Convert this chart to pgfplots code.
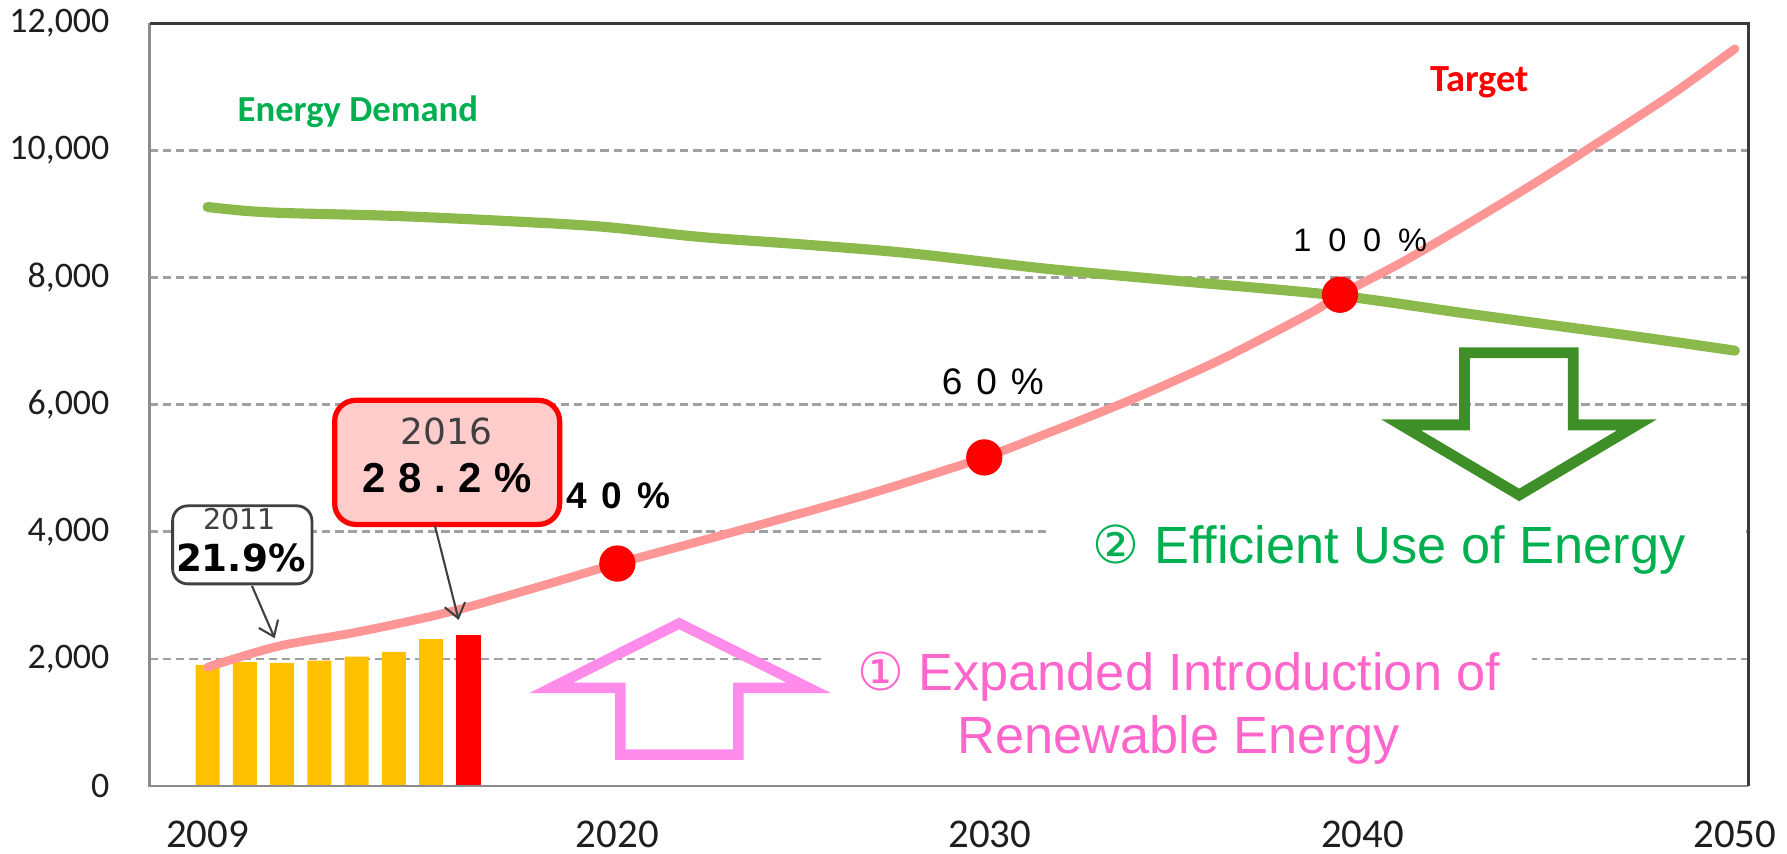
\documentclass[border=0pt]{standalone}
\usepackage{pgfplots}
\pgfplotsset{compat=1.18}
\usepackage{fontspec}
\setmainfont{Liberation Sans}
\newfontfamily\carlito{Carlito}
\newfontfamily\dejavu{DejaVu Sans}
\usetikzlibrary{arrows.meta}
\definecolor{barorange}{RGB}{255,192,0}
\definecolor{barred}{RGB}{255,0,0}
\definecolor{pinkline}{RGB}{255,150,150}
\definecolor{greenline}{RGB}{140,185,75}
\definecolor{greenarrow}{RGB}{63,143,41}
\definecolor{pinkarrow}{RGB}{255,140,235}
\definecolor{textgreen}{RGB}{0,176,80}
\definecolor{textpink}{RGB}{255,102,204}
\definecolor{gridgray}{RGB}{160,160,160}
\definecolor{boxfill}{RGB}{255,204,204}
\definecolor{boxgray}{RGB}{64,64,64}
\definecolor{framegray}{RGB}{140,140,140}
\definecolor{framedark}{RGB}{58,58,58}
\definecolor{ticktext}{RGB}{30,30,30}
\begin{document}
\begin{tikzpicture}
\begin{axis}[
  at={(0,0)}, anchor=south west,
  scale only axis, width=16.104cm, height=7.682cm,
  xmin=2007.44, xmax=2050.36, ymin=0, ymax=12000,
  scaled x ticks=false, scaled y ticks=false,
  xtick={2009,2020,2030,2040,2050},
  xticklabels={2009,2020,2030,2040,2050},
  ytick={0,2000,4000,6000,8000,10000,12000},
  yticklabels={0,{2,000},{4,000},{6,000},{8,000},{10,000},{12,000}},
  major tick length=0pt,
  tick style={draw=none},
  axis line style={draw=none},
  extra y ticks={2000,4000,6000,8000,10000},
  extra y tick labels={},
  extra y tick style={grid=major},
  grid style={color=gridgray, line width=0.75pt, dash pattern=on 2.4pt off 1.4pt},
  xticklabel style={font=\carlito\fontsize{11.7}{14}\selectfont, text=ticktext, anchor=base, inner sep=0pt, yshift=-17.6pt},
  yticklabel style={font=\carlito\fontsize{10.3}{12}\selectfont, text=ticktext, anchor=east, inner sep=0pt, xshift=-11.3pt},
  clip=false,
]
% bars
\addplot[ybar, bar width=0.64, bar shift=0pt, fill=barorange, draw=none]
  coordinates {(2009,1906) (2010,1948) (2011,1938) (2012,1974) (2013,2036) (2014,2109) (2015,2312)};
\addplot[ybar, bar width=0.68, bar shift=0pt, fill=barred, draw=none]
  coordinates {(2016,2379)};
% target line
\addplot[smooth, color=pinkline, line width=2.5pt, line cap=round]
  coordinates {(2009,1870) (2010.9,2200) (2013,2420) (2015.4,2725) (2017.8,3120) (2020,3500)
  (2022.2,3850) (2024.5,4220) (2026.9,4620) (2029.85,5170) (2031.5,5540) (2032.5,5770)
  (2034,6130) (2036.2,6710) (2038.6,7440) (2039.4,7730) (2041,8220) (2042.7,8800)
  (2044.5,9440) (2046,10000) (2048.3,10880) (2050,11600)};
% energy demand line
\addplot[smooth, color=greenline, line width=2.9pt, line cap=round]
  coordinates {(2009,9110) (2010,9050) (2011.1,9015) (2014,8970) (2017,8890) (2019.6,8800)
  (2022.2,8640) (2025,8520) (2027.8,8385) (2031.5,8140) (2035,7950) (2039.3,7720)
  (2042.6,7450) (2044.6,7290) (2047.5,7060) (2050,6850)};
% milestone dots
\addplot[only marks, mark=*, mark size=5pt, color=red, fill=red]
  coordinates {(2020,3500) (2029.85,5170) (2039.4,7730)};

% white gaps in grid lines behind the big texts
\fill[white] (axis cs:2031.5,3880) rectangle (axis cs:2050.3,4120);
\fill[white] (axis cs:2025.47,1880) rectangle (axis cs:2044.55,2120);

% 2011 callout
\draw[boxgray, line width=0.8pt, rounded corners=4.3pt, fill=white]
  (axis cs:2008.06,4408) rectangle (axis cs:2011.80,3180);
\node[anchor=base, inner sep=0pt, text=boxgray, font=\dejavu\fontsize{8.2}{10}\selectfont]
  at (axis cs:2009.86,4030) {2011};
\node[anchor=base, inner sep=0pt, font=\dejavu\bfseries\fontsize{10.7}{12}\selectfont]
  at (axis cs:2009.89,3373) {21.9\%};
\draw[-{Straight Barb[length=4pt,width=6pt]}, line width=0.6pt, color=boxgray]
  (axis cs:2010.19,3150) -- (axis cs:2010.80,2325);

% 2016 callout
\draw[red, line width=1.5pt, rounded corners=6pt, fill=boxfill]
  (axis cs:2012.41,6068) rectangle (axis cs:2018.45,4116);
\node[anchor=base, inner sep=0pt, text=boxgray, font=\dejavu\fontsize{10.3}{12}\selectfont]
  at (axis cs:2015.41,5368) {2016};
\node[anchor=base west, inner sep=0pt, font=\bfseries\fontsize{12}{14}\selectfont\addfontfeature{LetterSpace=30}]
  at (axis cs:2013.145,4612) {28.2\%};
\draw[-{Straight Barb[length=4pt,width=6pt]}, line width=0.6pt, color=boxgray]
  (axis cs:2015.10,4100) -- (axis cs:2015.74,2613);

% percentage labels
\node[anchor=base west, inner sep=0pt, font=\bfseries\fontsize{10.6}{12}\selectfont\addfontfeature{LetterSpace=40}]
  at (axis cs:2018.62,4371) {40\%};
\node[anchor=base west, inner sep=0pt, font=\fontsize{10.6}{12}\selectfont\addfontfeature{LetterSpace=38}]
  at (axis cs:2028.69,6155) {60\%};
\node[anchor=base west, inner sep=0pt, font=\fontsize{9.3}{11}\selectfont\addfontfeature{LetterSpace=52}]
  at (axis cs:2038.13,8410) {100\%};

% series names
\node[anchor=base west, inner sep=0pt, text=textgreen, font=\carlito\bfseries\fontsize{10.5}{12}\selectfont]
  at (axis cs:2009.79,10457) {Energy Demand};
\node[anchor=base west, inner sep=0pt, text=red, font=\carlito\bfseries\fontsize{11}{13}\selectfont]
  at (axis cs:2041.80,10929) {Target};

% block arrows
\draw[pinkarrow, line width=3pt, line join=miter]
  (axis cs:2020.08,493) -- (axis cs:2023.25,493) -- (axis cs:2023.25,1543) -- (axis cs:2025.14,1543)
  -- (axis cs:2021.66,2558) -- (axis cs:2018.22,1543) -- (axis cs:2020.08,1543) -- cycle;
\draw[greenarrow, line width=3.1pt, line join=miter]
  (axis cs:2042.74,6816) -- (axis cs:2045.66,6816) -- (axis cs:2045.66,5682) -- (axis cs:2047.37,5682)
  -- (axis cs:2044.21,4580) -- (axis cs:2041.04,5682) -- (axis cs:2042.74,5682) -- cycle;

% big texts
\node[anchor=base, inner sep=0pt, text=textpink, font=\fontsize{15}{18}\selectfont]
  at (axis cs:2035.07,1500) {{\dejavu ①} Expanded Introduction of};
\node[anchor=base, inner sep=0pt, text=textpink, font=\fontsize{15}{18}\selectfont]
  at (axis cs:2035.07,515) {Renewable Energy};
\node[anchor=base west, inner sep=0pt, text=textgreen, font=\fontsize{15}{18}\selectfont]
  at (axis cs:2032.74,3505) {{\dejavu ②} Efficient Use of Energy};

% frame
\draw[framegray, line width=0.7pt] (rel axis cs:0,1) -- (rel axis cs:0,0) -- (rel axis cs:1,0);
\draw[framedark, line width=0.9pt] (rel axis cs:0,1) -- (rel axis cs:1,1) -- (rel axis cs:1,0);
\coordinate (bbll) at (rel axis cs:0,0);
\coordinate (bbur) at (rel axis cs:1,1);
\end{axis}
\pgfresetboundingbox
\path[use as bounding box] ([shift={(-1.506cm,-0.685cm)}]bbll) rectangle ([shift={(0.390cm,0.235cm)}]bbur);
\end{tikzpicture}
\end{document}
